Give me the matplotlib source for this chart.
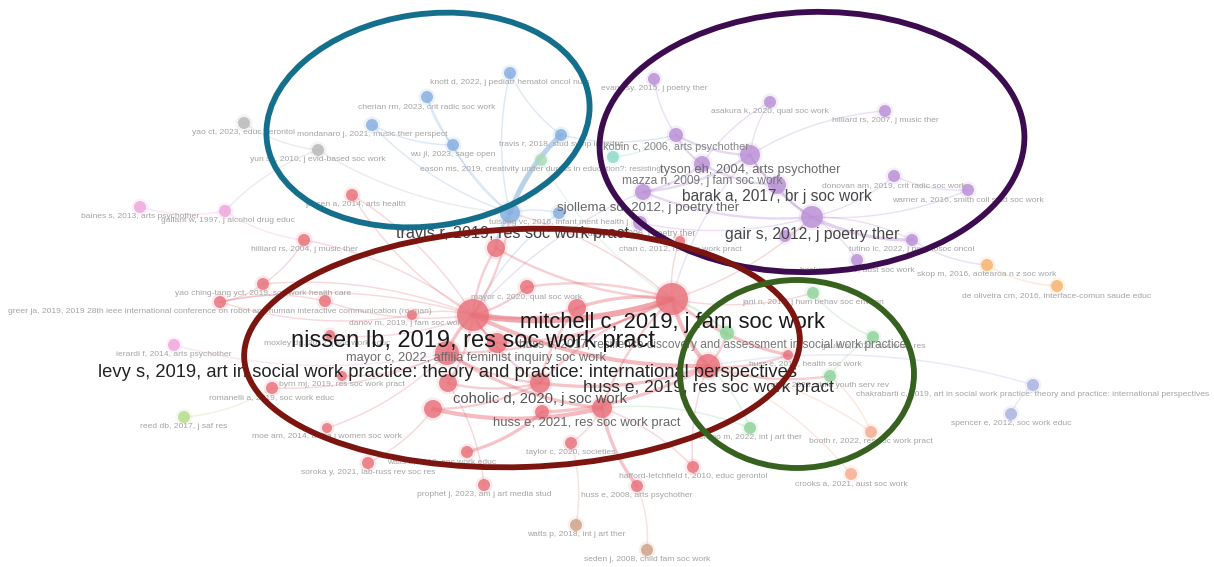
import numpy as np
import matplotlib.pyplot as plt
from matplotlib.patches import Ellipse

plt.rcParams['font.family'] = ['Liberation Sans', 'DejaVu Sans']

# ---- nodes: id, label, position (map units), node radius, cluster, label size ----
node_ids = [
    'yao_ct', 'yun_sh',
    'knott', 'cherian', 'mondanaro', 'wu', 'travis18', 'travis19', 'tuisong',
    'eason', 'teal',
    'evans', 'asakura', 'hilliard07', 'kobin', 'tyson', 'mazza', 'barak', 'gair',
    'sjollema', 'furman', 'donovan', 'warner', 'tutino', 'hosken', 'purp785',
    'chan', 'jensen', 'hilliard04', 'yaoching', 'greer', 'red325', 'danov', 'nissen',
    'mayor20', 'red496', 'mitchell', 'red577', 'moxley', 'levy', 'mayor22', 'byrn',
    'romanelli', 'coholic', 'red448', 'huss19', 'red433', 'red542', 'huss21', 'moe',
    'walls', 'taylor', 'soroka', 'prophet', 'hafford', 'huss08', 'huss10',
    'jani', 'discovery', 'gould', 'gil', 'bruno', 'reed',
    'baines', 'gallant', 'ierardi',
    'skop', 'oliveira', 'booth', 'crooks',
    'chakrabarti', 'spencer',
    'watts', 'seden',
]
node_labels = [
    'yao ct, 2023, educ gerontol', 'yun sh, 2010, j evid-based soc work',
    'knott d, 2022, j pediatr hematol oncol nurs', 'cherian rm, 2023, crit radic soc work',
    'mondanaro j, 2021, music ther perspect', 'wu jl, 2023, sage open',
    'travis r, 2018, stud symp inf educ', 'travis r, 2019, res soc work pract',
    'tuisong vc, 2016, infant ment health j',
    'eason ms, 2019, creativity under duress in education?: resisting', '',
    'evans sy, 2015, j poetry ther', 'asakura k, 2020, qual soc work',
    'hilliard rs, 2007, j music ther', 'kobin c, 2006, arts psychother',
    'tyson eh, 2004, arts psychother', 'mazza n, 2009, j fam soc work',
    'barak a, 2017, br j soc work', 'gair s, 2012, j poetry ther',
    'sjollema sd, 2012, j poetry ther', 'furman r, 2006, j poetry ther',
    'donovan am, 2019, crit radic soc work', 'warner a, 2016, smith coll stud soc work',
    'tutino lc, 2022, j psychosoc oncol', 'hosken c, 2021, aust soc work', '',
    'chan c, 2012, res soc work pract', 'jensen a, 2014, arts health',
    'hilliard rs, 2004, j music ther', 'yao ching-tang yct, 2019, soc work health care',
    'greer ja, 2019, 2019 28th ieee international conference on robot and human interactive communication (ro-man)',
    '', 'danov m, 2019, j fam soc work', 'nissen lb, 2019, res soc work pract',
    'mayor c, 2020, qual soc work', '', 'mitchell c, 2019, j fam soc work', '',
    'moxley dp, 2012, j soc work educ',
    'levy s, 2019, art in social work practice: theory and practice: international perspectives',
    'mayor c, 2022, affilia feminist inquiry soc work', 'byrn mj, 2019, res soc work pract',
    'romanelli a, 2019, soc work educ', 'coholic d, 2020, j soc work', '',
    'huss e, 2019, res soc work pract', '', '', 'huss e, 2021, res soc work pract',
    'moe am, 2014, affilia j women soc work', 'walls a, 2019, soc work educ',
    'taylor c, 2020, societies', 'soroka y, 2021, lab-russ rev soc res',
    'prophet j, 2023, am j art media stud', 'hafford-letchfield t, 2010, educ gerontol',
    'huss e, 2008, arts psychother', 'huss e, 2010, health soc work',
    'jani n, 2018, j hum behav soc environ',
    'huss e, 2017, resilience discovery and assessment in social work practice',
    'gould n, 2020, soc work res', 'gil e, 2020, child youth serv rev',
    'bruno m, 2022, int j art ther', 'reed db, 2017, j saf res',
    'baines s, 2013, arts psychother', 'gallant w, 1997, j alcohol drug educ',
    'ierardi f, 2014, arts psychother',
    'skop m, 2016, aotearoa n z soc work', 'de oliveira cm, 2016, interface-comun saude educ',
    'booth r, 2022, res soc work pract', 'crooks a, 2021, aust soc work',
    'chakrabarti c, 2019, art in social work practice: theory and practice: international perspectives',
    'spencer e, 2012, soc work educ',
    'watts p, 2018, int j art ther', 'seden j, 2008, child fam soc work',
]
node_x = [244, 318,
          510, 427, 372, 453, 561, 510, 559,
          541, 613,
          654, 770, 885, 676, 750, 702, 777, 812, 643, 640, 894, 968, 912, 857, 785,
          680, 352, 304, 263, 220, 325, 412, 473, 527, 496, 672, 577, 330, 447, 497, 342,
          272, 540, 448, 708, 433, 542, 602, 327, 467, 571, 368, 484, 693, 637, 788,
          813, 727, 873, 830, 750, 184,
          140, 225, 174,
          987, 1057, 871, 851,
          1033, 1011,
          576, 647]
node_y = [123, 150,
          73, 97, 125, 145, 135, 213, 213,
          160, 157,
          79, 102, 111, 135, 155, 164, 185, 217, 192, 223, 176, 190, 240, 260, 236,
          241, 195, 240, 284, 302, 301, 315, 315, 287, 248, 299, 308, 335, 353, 343, 376,
          388, 383, 383, 366, 409, 412, 408, 428, 452, 443, 463, 485, 467, 486, 355,
          293, 333, 337, 376, 428, 417,
          207, 211, 345,
          265, 286, 432, 474,
          385, 414,
          525, 550]
node_size = [6, 6,
             6, 6, 6, 6, 6, 10, 6,
             6, 6,
             6, 6, 6, 7, 10, 8, 9, 11, 8, 7, 6, 6, 6, 6, 6,
             5, 6, 6, 6, 6, 6, 5, 16, 7, 9, 16, 9, 5, 12, 10, 5,
             6, 10, 9, 12, 9, 7, 10, 5, 6, 6, 6, 6, 6, 6, 5,
             6, 7, 6, 6, 6, 6,
             6, 6, 6,
             6, 6, 6, 6,
             6, 6,
             6, 6]
node_cluster = ['gray', 'gray',
                'blue', 'blue', 'blue', 'blue', 'blue', 'blue', 'blue',
                'mint', 'teal',
                'purple', 'purple', 'purple', 'purple', 'purple', 'purple', 'purple', 'purple',
                'purple', 'purple', 'purple', 'purple', 'purple', 'purple', 'purple',
                'red', 'red', 'red', 'red', 'red', 'red', 'red', 'red', 'red', 'red', 'red',
                'red', 'red', 'red', 'red', 'red', 'red', 'red', 'red', 'red', 'red', 'red',
                'red', 'red', 'red', 'red', 'red', 'red', 'red', 'red', 'red',
                'green', 'green', 'green', 'green', 'green', 'lime',
                'pink', 'pink', 'pink',
                'orange', 'orange', 'salmon', 'salmon',
                'lavender', 'lavender',
                'brown', 'brown']
label_pt = [6.1, 6.1,
            6.1, 6.1, 6.1, 6.1, 6.1, 11.6, 6.1,
            6.1, 6.1,
            6.1, 6.1, 6.1, 7.8, 9.3, 8.6, 11.2, 11.3, 9.6, 6.4, 6.1, 6.1, 6.1, 6.1, 6.1,
            6.1, 6.1, 6.1, 6.1, 6.1, 6.1, 6.1, 17.0, 6.1, 6.1, 15.8, 6.1, 6.1, 13.2, 9.2, 6.1,
            6.1, 10.6, 6.1, 12.5, 6.1, 6.1, 9.4, 6.1, 6.1, 6.1, 6.1, 6.1, 6.1, 6.1, 6.1,
            6.1, 8.6, 6.1, 6.1, 6.1, 6.1,
            6.1, 6.1, 6.1,
            6.1, 6.1, 6.1, 6.1,
            6.1, 6.1,
            6.1, 6.1]

# label nudges (dx, dy) relative to default position under node
label_nudge = {
    'sjollema': (5, 2), 'barak': (0, -4), 'mitchell': (0, -2), 'mazza': (0, 4),
    'mayor22': (-21, 0), 'huss19': (0, 2), 'huss21': (-15, 0), 'walls': (-25, 0),
    'huss10': (17, 0), 'discovery': (-14, 0), 'danov': (-5, 0), 'gallant': (3, 0),
    'moxley': (-3, 0), 'jensen': (4, 0), 'travis19': (3, 4),
}

# ---- links between nodes: from, to, strength ----
edge_from = ['yao_ct', 'yun_sh', 'yun_sh', 'knott', 'cherian', 'mondanaro', 'wu', 'travis18',
             'knott', 'mondanaro', 'cherian', 'travis18', 'tuisong', 'tuisong', 'eason', 'eason',
             'evans', 'asakura', 'asakura', 'hilliard07', 'kobin', 'kobin', 'tyson', 'tyson',
             'mazza', 'barak', 'gair', 'gair', 'gair', 'sjollema', 'sjollema', 'sjollema',
             'furman', 'hosken', 'donovan', 'tutino', 'sjollema', 'tyson', 'purp785', 'teal',
             'nissen', 'nissen', 'nissen', 'nissen', 'nissen', 'nissen', 'nissen', 'nissen',
             'nissen', 'nissen', 'nissen', 'nissen', 'nissen', 'mitchell', 'mitchell', 'mitchell',
             'mitchell', 'mitchell', 'mitchell', 'mitchell', 'mitchell', 'mitchell', 'levy', 'levy',
             'red433', 'red433', 'walls', 'red542', 'huss21', 'huss19', 'coholic', 'huss19',
             'huss19', 'huss19', 'byrn', 'romanelli', 'moe', 'soroka', 'prophet', 'taylor',
             'watts', 'seden', 'travis19', 'red496', 'red496', 'greer', 'greer', 'yaoching',
             'ierardi', 'reed', 'baines', 'gallant', 'moxley', 'booth', 'booth', 'crooks',
             'chakrabarti', 'chakrabarti', 'discovery', 'jani', 'gould', 'bruno', 'bruno',
             'red325', 'red325', 'red448', 'red448', 'chan', 'hafford', 'levy', 'red577',
             'mayor22', 'jensen', 'skop', 'tutino']
edge_to = ['yun_sh', 'gallant', 'travis19', 'travis19', 'travis19', 'travis19', 'travis19',
           'travis19', 'travis18', 'wu', 'wu', 'kobin', 'travis19', 'nissen', 'travis19',
           'mitchell',
           'kobin', 'tyson', 'mazza', 'tyson', 'tyson', 'mazza', 'barak', 'gair',
           'barak', 'gair', 'donovan', 'warner', 'tutino', 'tyson', 'mazza', 'gair',
           'gair', 'gair', 'warner', 'skop', 'nissen', 'mitchell', 'gair', 'kobin',
           'mitchell', 'travis19', 'mayor20', 'red577', 'levy', 'mayor22', 'coholic', 'huss19',
           'danov', 'greer', 'yaoching', 'hilliard04', 'jensen', 'huss19', 'red577', 'mayor20',
           'coholic', 'huss21', 'huss10', 'jani', 'travis19', 'gair', 'coholic', 'huss21',
           'huss21', 'coholic', 'red542', 'huss19', 'huss08', 'hafford', 'huss19', 'huss10',
           'discovery', 'gil', 'levy', 'levy', 'levy', 'red433', 'red448', 'huss21',
           'taylor', 'huss08', 'red496', 'nissen', 'mitchell', 'yaoching', 'danov', 'hilliard04',
           'levy', 'romanelli', 'gallant', 'hilliard04', 'nissen', 'huss19', 'gil', 'huss19',
           'spencer', 'huss19', 'mitchell', 'gould', 'gil', 'huss21', 'huss19',
           'nissen', 'greer', 'nissen', 'coholic', 'mitchell', 'huss21', 'mitchell', 'coholic',
           'mitchell', 'nissen', 'oliveira', 'gair']
edge_weight = [1, 1, 1, 1, 1, 1, 1, 5, 1, 1, 1, 1, 1, 1, 1, 1,
               1, 1, 1, 1, 2, 2, 2, 2, 2, 2, 1, 1, 3, 2, 2, 2,
               1, 1, 1, 1, 1, 1, 1, 1,
               6, 2, 2, 2, 3, 2, 2, 4, 1, 1, 1, 1, 1, 4, 3, 2,
               2, 2, 3, 1, 1, 1, 2, 3,
               4, 2, 3, 3, 3, 1, 3, 2,
               2, 2, 1, 1, 1, 1, 1, 1,
               1, 1, 3, 2, 2, 1, 1, 1,
               1, 1, 1, 1, 1, 1, 1, 1,
               1, 1, 2, 1, 1, 1, 1,
               1, 1, 2, 2, 1, 1, 2, 2,
               2, 1, 1, 1]

# ---- highlighted groups (ellipses) ----
ring_center = [(428, 120), (812, 142), (522, 348), (797, 374)]
ring_width = [325, 425, 556, 234]
ring_height = [212, 260, 238, 188]
ring_angle = [-8, -2, -2, 0]
ring_color = ['#146f8c', '#3c0b50', '#7c1410', '#37611f']

cluster_color = {
    'red': '#e8707a', 'purple': '#b98fd6', 'blue': '#84aee0', 'gray': '#b8b8b8',
    'pink': '#eea6dc', 'green': '#8fd39a', 'mint': '#a9dcb8', 'teal': '#8ed8c8',
    'lime': '#b5dc8a', 'orange': '#f6b36e', 'salmon': '#f5ad8f', 'lavender': '#a9b1e0',
    'brown': '#cfa189',
}


def bezier(p, q, bend=0.12, n=40):
    p = np.asarray(p, float)
    q = np.asarray(q, float)
    d = q - p
    c = (p + q) / 2 + bend * np.array([-d[1], d[0]])
    t = np.linspace(0, 1, n)[:, None]
    return (1 - t) ** 2 * p + 2 * (1 - t) * t * c + t ** 2 * q


fig = plt.figure(figsize=(12.14, 5.67), dpi=100, facecolor='white')
ax = fig.add_axes([0, 0, 1, 1])
ax.set_xlim(0, 1214)
ax.set_ylim(567, 0)
ax.axis('off')

idx = {k: i for i, k in enumerate(node_ids)}

# links
for a, b, w in zip(edge_from, edge_to, edge_weight):
    i, j = idx[a], idx[b]
    pts = bezier((node_x[i], node_y[i]), (node_x[j], node_y[j]))
    ax.plot(pts[:, 0], pts[:, 1], color=cluster_color[node_cluster[i]],
            lw=0.4 + 0.65 * w, alpha=min(0.2 + 0.07 * w, 0.62),
            solid_capstyle='round', zorder=1)

# nodes
for i in range(len(node_ids)):
    col = cluster_color[node_cluster[i]]
    r = node_size[i]
    ax.scatter(node_x[i], node_y[i], s=(2 * (r + 2.5) * 0.72) ** 2, color=col,
               alpha=0.15, edgecolors='none', zorder=2)
    ax.scatter(node_x[i], node_y[i], s=(2 * r * 0.72) ** 2, color=col,
               alpha=0.82, edgecolors='none', zorder=3)

# labels
for i in range(len(node_ids)):
    if not node_labels[i]:
        continue
    fs = label_pt[i]
    g = float(np.clip(0.64 - (fs - 6.1) * 0.07, 0.1, 0.64))
    dx, dy = label_nudge.get(node_ids[i], (0, 0))
    ax.text(node_x[i] + dx, node_y[i] + node_size[i] + 0.42 * fs * 1.389 + dy,
            node_labels[i], ha='center', va='center', fontsize=fs,
            color=(g, g, g), zorder=4 + fs * 0.01)

# group outlines
for c, w, h, a, col in zip(ring_center, ring_width, ring_height, ring_angle, ring_color):
    ax.add_patch(Ellipse(c, w, h, angle=a, fill=False, edgecolor=col, lw=4.2, zorder=10))

fig.savefig('out.png', dpi=100, facecolor='white')
